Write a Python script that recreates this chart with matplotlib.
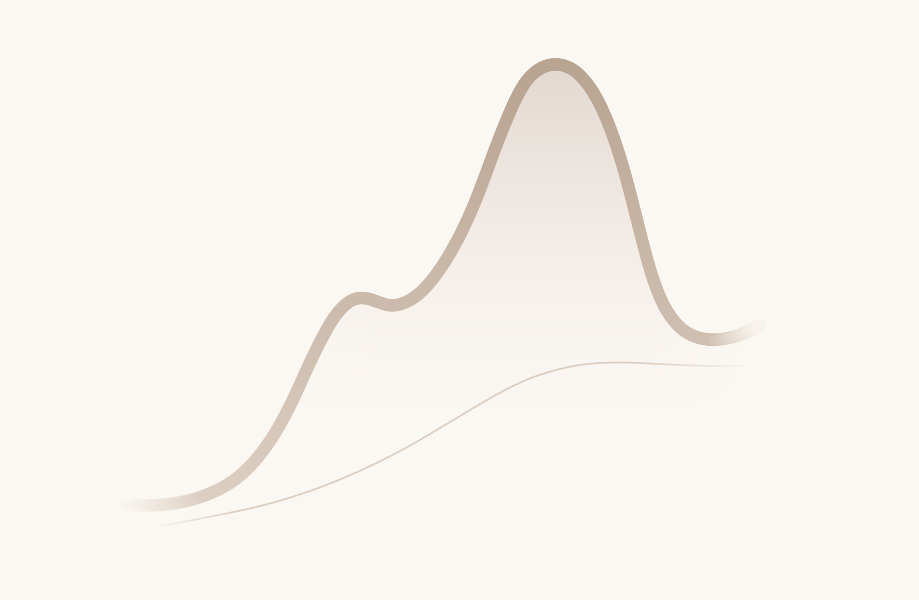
import numpy as np
import matplotlib
matplotlib.use('Agg')
import matplotlib.pyplot as plt
from matplotlib.path import Path
from matplotlib.patches import PathPatch
from matplotlib.collections import PatchCollection
from matplotlib.colors import to_rgb

# ---- data (pixel-like units, y grows downward) ----
main_x = [125, 150, 180, 205, 230, 250, 267, 280, 292, 302, 312, 322, 332, 343,
          355, 367, 378, 390, 403, 417, 430, 443, 455, 467, 478, 488, 498, 508,
          518, 528, 540, 552, 564, 576, 588, 598, 608, 617, 626, 634, 642, 650,
          658, 666, 676, 688, 702, 716, 730, 745, 760]
main_y = [505, 506, 503, 496, 484, 467, 446, 425, 402, 380, 358, 338, 320, 306,
          298, 298, 302, 306, 304, 296, 283, 265, 245, 221, 195, 168, 141, 116,
          94, 78, 68, 64, 65, 71, 84, 100, 122, 147, 177, 208, 240, 270,
          293, 310, 324, 334, 339, 340, 338, 333, 326]

thin_x = [160, 210, 267, 320, 367, 410, 445, 480, 510, 540, 580, 620, 660, 700, 745]
thin_y = [526, 517, 505, 488, 468, 446, 425, 404, 387, 374, 364, 362, 364, 366, 366]

bg = '#fbf7f2'
stroke_top = np.array(to_rgb('#b9a391'))
stroke_low = np.array(to_rgb('#dccfc2'))
fill_top = np.array(to_rgb('#e0d6ce'))
thin_col = np.array(to_rgb('#dbcdc0'))
bg_rgb = np.array(to_rgb(bg))


def smooth_pieces(xs, ys, sub=8):
    # quadratic bezier through midpoints (control at each read point),
    # each piece split into `sub` parts so colours can change smoothly
    pts = np.column_stack([xs, ys]).astype(float)
    mids = (pts[1:] + pts[:-1]) / 2
    quads = []
    start = pts[0]
    for i in range(1, len(pts) - 1):
        quads.append((start, pts[i], mids[i]))
        start = mids[i]
    quads.append((start, (start + pts[-1]) / 2, pts[-1]))
    pieces = []
    for p0, p1, p2 in quads:
        ts = np.linspace(0, 1, sub + 1)
        for t0, t1 in zip(ts[:-1], ts[1:]):
            b0 = (1 - t0) ** 2 * p0 + 2 * (1 - t0) * t0 * p1 + t0 ** 2 * p2
            b1 = (1 - t1) ** 2 * p0 + 2 * (1 - t1) * t1 * p1 + t1 ** 2 * p2
            c = (1 - t0) * (1 - t1) * p0 + ((1 - t0) * t1 + t0 * (1 - t1)) * p1 + t0 * t1 * p2
            pieces.append(Path([b0, c, b1], [Path.MOVETO, Path.CURVE3, Path.CURVE3]))
    return pieces, pts


fig = plt.figure(figsize=(9.2, 6.0), dpi=100)
fig.patch.set_facecolor(bg)
ax = fig.add_axes([0, 0, 1, 1])
ax.set_facecolor(bg)
ax.set_xlim(0, 920)
ax.set_ylim(600, 0)
ax.axis('off')

# ---- gradient area under the main curve ----
pieces, pts = smooth_pieces(main_x, main_y)
verts = [pts[0]]
codes = [Path.MOVETO]
for p in pieces:
    verts += list(p.vertices[1:])
    codes += list(p.codes[1:])
verts += [(main_x[-1], 600), (main_x[0], 600), pts[0]]
codes += [Path.LINETO, Path.LINETO, Path.CLOSEPOLY]
area = PathPatch(Path(verts, codes), facecolor='none', edgecolor='none')
ax.add_patch(area)

gy = np.linspace(0, 1, 300)[:, None]
gx = np.linspace(0, 1, 230)[None, :]
# strongest near the peak, gone by ~y=420, fading at the left/right ends
t = np.clip((gy * 600 - 60) / 360, 0, 1)
a = (1 - t) ** 1.6
left = 0.3 + 0.7 * np.clip((gx * 920 - 180) / 200, 0, 1)
right = np.clip((745 - gx * 920) / 90, 0, 1)
a = a * left * right
img = np.zeros((300, 230, 4))
img[..., :3] = fill_top
img[..., 3] = a * 0.95
im = ax.imshow(img, extent=[0, 920, 600, 0], aspect='auto', zorder=1,
               interpolation='bilinear')
im.set_clip_path(area)

# ---- thick stroke: opaque colours blended toward background at the ends ----
colors = []
for p in pieces:
    cx, cy = p.vertices.mean(axis=0)
    k = np.clip((cy - 64) / 440, 0, 1)
    rgb = stroke_top * (1 - k) + stroke_low * k
    w = 1.0
    if cx < 205:
        w = np.clip((cx - 118) / 87, 0.0, 1) ** 1.3
    if cx > 712:
        w = np.clip((766 - cx) / 54, 0.0, 1) ** 1.3
    colors.append(rgb * w + bg_rgb * (1 - w))
pc = PatchCollection([PathPatch(p) for p in pieces], facecolors='none',
                     edgecolors=colors, linewidths=8.8, capstyle='round',
                     joinstyle='round', zorder=3)
ax.add_collection(pc)

# ---- thin lower curve ----
tpieces, tpts = smooth_pieces(thin_x, thin_y)
tcol = []
for p in tpieces:
    cx = p.vertices[:, 0].mean()
    w = 1.0
    if cx < 240:
        w = np.clip((cx - 150) / 90, 0.0, 1)
    if cx > 640:
        w = np.clip((755 - cx) / 115, 0.0, 1)
    tcol.append(thin_col * w + bg_rgb * (1 - w))
tc = PatchCollection([PathPatch(p) for p in tpieces], facecolors='none',
                     edgecolors=tcol, linewidths=1.2, capstyle='round', zorder=2)
ax.add_collection(tc)

fig.savefig('out.png', dpi=100, facecolor=bg)
